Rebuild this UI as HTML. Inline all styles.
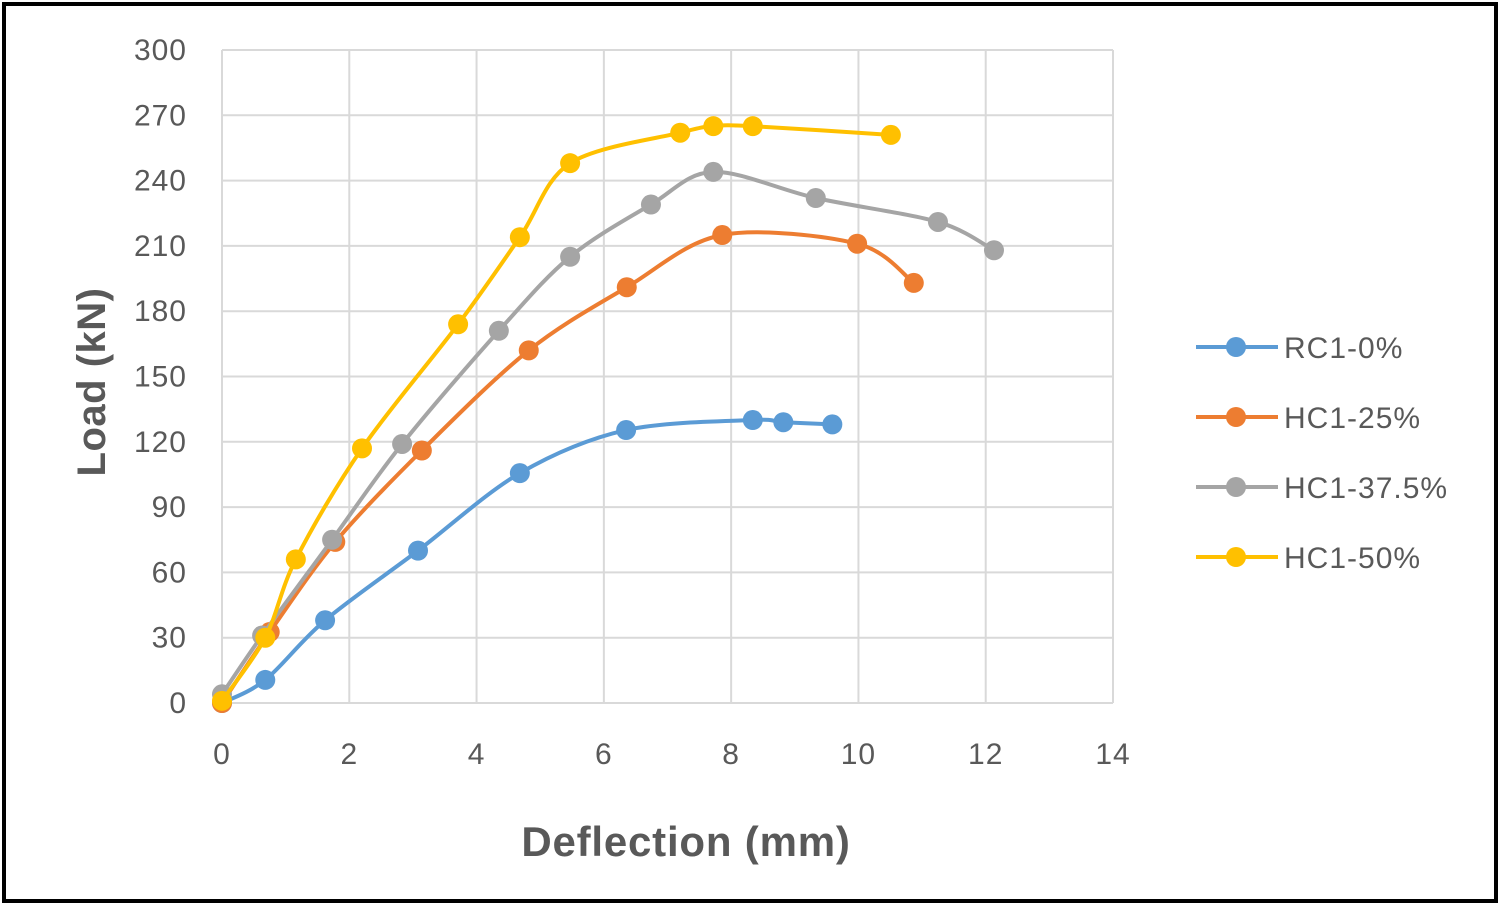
<!DOCTYPE html>
<html><head><meta charset="utf-8"><style>
html,body{margin:0;padding:0;background:#fff}
svg{display:block}
text{font-family:"Liberation Sans",sans-serif}
</style></head><body>
<svg id="chart" width="1500" height="906" viewBox="0 0 1500 906" xmlns="http://www.w3.org/2000/svg">
<rect x="4" y="4" width="1492" height="897" fill="#fff" stroke="#000" stroke-width="4"/>
<g id="grid"></g>
<g id="ticks"></g>
<g id="series"></g>
<g id="legend"></g>
<text x="0" y="0" transform="translate(105,382) rotate(-90)" text-anchor="middle" font-size="40" font-weight="bold" fill="#595959" letter-spacing="0.5">Load (kN)</text>
<text x="686" y="856" text-anchor="middle" font-size="42" font-weight="bold" fill="#595959" letter-spacing="0.8">Deflection (mm)</text>
</svg>
<script>
const xTicks=[0,2,4,6,8,10,12,14];
const yTicks=[0,30,60,90,120,150,180,210,240,270,300];
const seriesNames=["RC1-0%","HC1-25%","HC1-37.5%","HC1-50%"];
const seriesColors=["#5B9BD5","#ED7D31","#A5A5A5","#FFC000"];
const rcX=[0,0.68,1.62,3.08,4.68,6.35,8.34,8.82,9.59];
const rcY=[0,10.6,38,70,105.6,125.4,130,129,128];
const h25X=[0,0.75,1.78,3.14,4.82,6.36,7.86,9.98,10.87];
const h25Y=[0,32.6,74,116,162,191,215,211,193];
const h375X=[0,0.63,1.73,2.83,4.35,5.47,6.74,7.72,9.33,11.25,12.13];
const h375Y=[4,31,75,119,171,205,229,244,232,221,208];
const h50X=[0,0.68,1.16,2.2,3.71,4.68,5.47,7.2,7.72,8.34,10.51];
const h50Y=[1,30,66,117,174,214,248,262,265,265,261];
const allX=[rcX,h25X,h375X,h50X], allY=[rcY,h25Y,h375Y,h50Y];
const NS="http://www.w3.org/2000/svg";
const x0=222,x1=1113,y0=703,y1=50;
const sx=v=>x0+(v-0)/(14-0)*(x1-x0);
const sy=v=>y0-(v-0)/(300-0)*(y0-y1);
function mk(tag,attrs,parent){const e=document.createElementNS(NS,tag);for(const k in attrs)e.setAttribute(k,attrs[k]);parent.appendChild(e);return e;}
const grid=document.getElementById('grid'),ticks=document.getElementById('ticks');
yTicks.forEach(v=>{const l=mk('line',{x1:x0,x2:x1,y1:sy(v),y2:sy(v),stroke:'#d9d9d9','stroke-width':2},grid);


const t=mk('text',{x:187,y:sy(v)+10,'text-anchor':'end','font-size':30,fill:'#595959','letter-spacing':1},ticks);t.textContent=v;

});
xTicks.forEach(v=>{const l=mk('line',{x1:sx(v),x2:sx(v),y1:y1,y2:y0,stroke:'#d9d9d9','stroke-width':2},grid);


const t=mk('text',{x:sx(v),y:764,'text-anchor':'middle','font-size':30,fill:'#595959','letter-spacing':1},ticks);t.textContent=v;

});
function smooth(p){let d=`M${p[0][0]},${p[0][1]}`;for(let i=0;i<p.length-1;i++){const a=p[i-1]||p[i],b=p[i],c=p[i+1],e=p[i+2]||c;const t=0.16;
d+=` C${b[0]+(c[0]-a[0])*t},${b[1]+(c[1]-a[1])*t} ${c[0]-(e[0]-b[0])*t},${c[1]-(e[1]-b[1])*t} ${c[0]},${c[1]}`;}return d;}
const sg=document.getElementById('series');
allX.forEach((xs,i)=>{const g=mk('g',{},sg);


const pts=xs.map((x,j)=>[sx(x),sy(allY[i][j])]);
const p=mk('path',{d:smooth(pts),fill:'none',stroke:seriesColors[i],'stroke-width':4},g);


pts.forEach(q=>{const c=mk('circle',{cx:q[0],cy:q[1],r:10,fill:seriesColors[i]},g);

});});
const lg=document.getElementById('legend');
seriesNames.forEach((n,i)=>{const y=347+i*70;const g=mk('g',{},lg);


mk('line',{x1:1196,x2:1278,y1:y,y2:y,stroke:seriesColors[i],'stroke-width':4},g);
mk('circle',{cx:1236,cy:y,r:10,fill:seriesColors[i]},g);
const t=mk('text',{x:1284,y:y+11,'font-size':30,fill:'#595959','letter-spacing':1},g);t.textContent=n;});
</script>
</body></html>
